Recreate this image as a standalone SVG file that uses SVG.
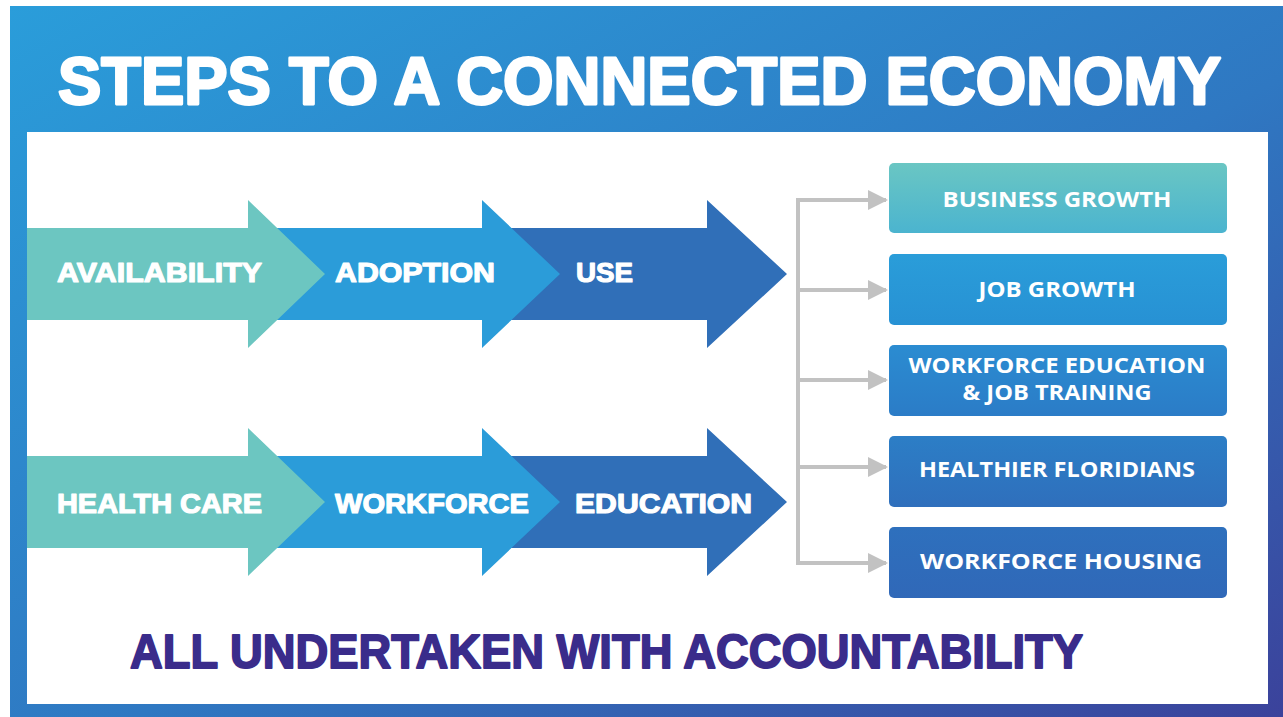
<svg xmlns="http://www.w3.org/2000/svg" width="1283" height="717" viewBox="0 0 1283 717">
  <defs>
    <linearGradient id="frameGrad" x1="0" y1="0" x2="1" y2="1">
      <stop offset="0" stop-color="#2a9dda"/>
      <stop offset="0.55" stop-color="#2f78c2"/>
      <stop offset="1" stop-color="#3b429b"/>
    </linearGradient>
    <linearGradient id="box1" x1="0" y1="0" x2="0" y2="1">
      <stop offset="0" stop-color="#6ac6c3"/>
      <stop offset="1" stop-color="#4bb4cf"/>
    </linearGradient>
    <linearGradient id="box2" x1="0" y1="0" x2="0" y2="1">
      <stop offset="0" stop-color="#2a9dd9"/>
      <stop offset="1" stop-color="#2791d4"/>
    </linearGradient>
    <linearGradient id="box3" x1="0" y1="0" x2="0" y2="1">
      <stop offset="0" stop-color="#2b8cd1"/>
      <stop offset="1" stop-color="#2b7cc7"/>
    </linearGradient>
    <linearGradient id="box4" x1="0" y1="0" x2="0" y2="1">
      <stop offset="0" stop-color="#2c7ec6"/>
      <stop offset="1" stop-color="#2f6fbc"/>
    </linearGradient>
    <linearGradient id="box5" x1="0" y1="0" x2="0" y2="1">
      <stop offset="0" stop-color="#2e70bd"/>
      <stop offset="1" stop-color="#3068b8"/>
    </linearGradient>
    <marker id="grayHead" viewBox="0 0 10 10" refX="9" refY="5" markerWidth="5" markerHeight="5.5" markerUnits="strokeWidth" orient="auto">
      <path d="M0,0 L10,5 L0,10 Z" fill="#c2c2c2"/>
    </marker>
    <style>
      .title { font-family: "Liberation Sans", Arial, sans-serif; font-weight: 700; fill: #ffffff; stroke: #ffffff; stroke-width: 2.8; stroke-linejoin: round; }
      .step { font-family: "Liberation Sans", Arial, sans-serif; font-weight: 700; font-size: 28px; fill: #ffffff; stroke: #ffffff; stroke-width: 1.2; stroke-linejoin: round; }
      .outcome { font-family: "Open Sans", "Liberation Sans", sans-serif; font-weight: 700; font-size: 21px; fill: #ffffff; text-anchor: middle; }
      .footer { font-family: "Liberation Sans", Arial, sans-serif; font-weight: 700; font-size: 48px; fill: #3a2c8b; stroke: #3a2c8b; stroke-width: 1.8; stroke-linejoin: round; }
      .link { fill: none; stroke: #c2c2c2; stroke-width: 4; }
    </style>
  </defs>

  <!-- page background and framed panel -->
  <rect x="0" y="0" width="1283" height="717" fill="#ffffff"/>
  <rect x="10" y="6" width="1273" height="711" fill="url(#frameGrad)"/>
  <rect x="27" y="132" width="1241" height="572" fill="#ffffff"/>

  <!-- heading -->
  <text class="title" x="58" y="104" font-size="67" textLength="1163" lengthAdjust="spacingAndGlyphs">STEPS TO A CONNECTED ECONOMY</text>

  <!-- top chain: availability -> adoption -> use -->
  <g id="use">
    <polygon points="480,228 707,228 707,200 787,274 707,348 707,320 480,320" fill="#306fb8"/>
    <text class="step" x="576" y="282" textLength="57" lengthAdjust="spacingAndGlyphs">USE</text>
  </g>
  <g id="adoption">
    <polygon points="248,228 482,228 482,200 560,274 482,348 482,320 248,320" fill="#2b9cd9"/>
    <text class="step" x="335" y="282" textLength="160" lengthAdjust="spacingAndGlyphs">ADOPTION</text>
  </g>
  <g id="availability">
    <polygon points="27,228 248,228 248,200 325,274 248,348 248,320 27,320" fill="#6cc6c1"/>
    <text class="step" x="57" y="282" textLength="205" lengthAdjust="spacingAndGlyphs">AVAILABILITY</text>
  </g>

  <!-- bottom chain: health care -> workforce -> education -->
  <g id="education">
    <polygon points="480,456 707,456 707,428 787,502 707,576 707,548 480,548" fill="#306fb8"/>
    <text class="step" x="575" y="513" textLength="177" lengthAdjust="spacingAndGlyphs">EDUCATION</text>
  </g>
  <g id="workforce">
    <polygon points="248,456 482,456 482,428 560,502 482,576 482,548 248,548" fill="#2b9cd9"/>
    <text class="step" x="335" y="513" textLength="194" lengthAdjust="spacingAndGlyphs">WORKFORCE</text>
  </g>
  <g id="health-care">
    <polygon points="27,456 248,456 248,428 325,502 248,576 248,548 27,548" fill="#6cc6c1"/>
    <text class="step" x="57" y="513" textLength="205" lengthAdjust="spacingAndGlyphs">HEALTH CARE</text>
  </g>

  <!-- branching connectors to outcomes -->
  <g id="connectors">
    <line class="link" x1="798" y1="198" x2="798" y2="565"/>
    <line class="link" x1="796" y1="200" x2="886" y2="200" marker-end="url(#grayHead)"/>
    <line class="link" x1="798" y1="290" x2="886" y2="290" marker-end="url(#grayHead)"/>
    <line class="link" x1="798" y1="380" x2="886" y2="380" marker-end="url(#grayHead)"/>
    <line class="link" x1="798" y1="467" x2="886" y2="467" marker-end="url(#grayHead)"/>
    <line class="link" x1="796" y1="563" x2="886" y2="563" marker-end="url(#grayHead)"/>
  </g>

  <!-- outcomes -->
  <g id="business-growth">
    <rect x="889" y="163" width="338" height="70" rx="5" fill="url(#box1)"/>
    <text class="outcome" x="1057" y="207" textLength="229" lengthAdjust="spacingAndGlyphs">BUSINESS GROWTH</text>
  </g>
  <g id="job-growth">
    <rect x="889" y="254" width="338" height="71" rx="5" fill="url(#box2)"/>
    <text class="outcome" x="1057" y="297" textLength="157" lengthAdjust="spacingAndGlyphs">JOB GROWTH</text>
  </g>
  <g id="workforce-education">
    <rect x="889" y="345" width="338" height="71" rx="5" fill="url(#box3)"/>
    <text class="outcome" x="1057" y="373" textLength="297" lengthAdjust="spacingAndGlyphs">WORKFORCE EDUCATION</text>
    <text class="outcome" x="1057" y="400" textLength="189" lengthAdjust="spacingAndGlyphs">&amp; JOB TRAINING</text>
  </g>
  <g id="healthier-floridians">
    <rect x="889" y="436" width="338" height="71" rx="5" fill="url(#box4)"/>
    <text class="outcome" x="1057" y="477" textLength="276" lengthAdjust="spacingAndGlyphs">HEALTHIER FLORIDIANS</text>
  </g>
  <g id="workforce-housing">
    <rect x="889" y="527" width="338" height="71" rx="5" fill="url(#box5)"/>
    <text class="outcome" x="1061" y="569" font-weight="600" textLength="282" lengthAdjust="spacingAndGlyphs">WORKFORCE HOUSING</text>
  </g>

  <!-- footer statement -->
  <text class="footer" x="130" y="668" textLength="953" lengthAdjust="spacingAndGlyphs">ALL UNDERTAKEN WITH ACCOUNTABILITY</text>
</svg>
